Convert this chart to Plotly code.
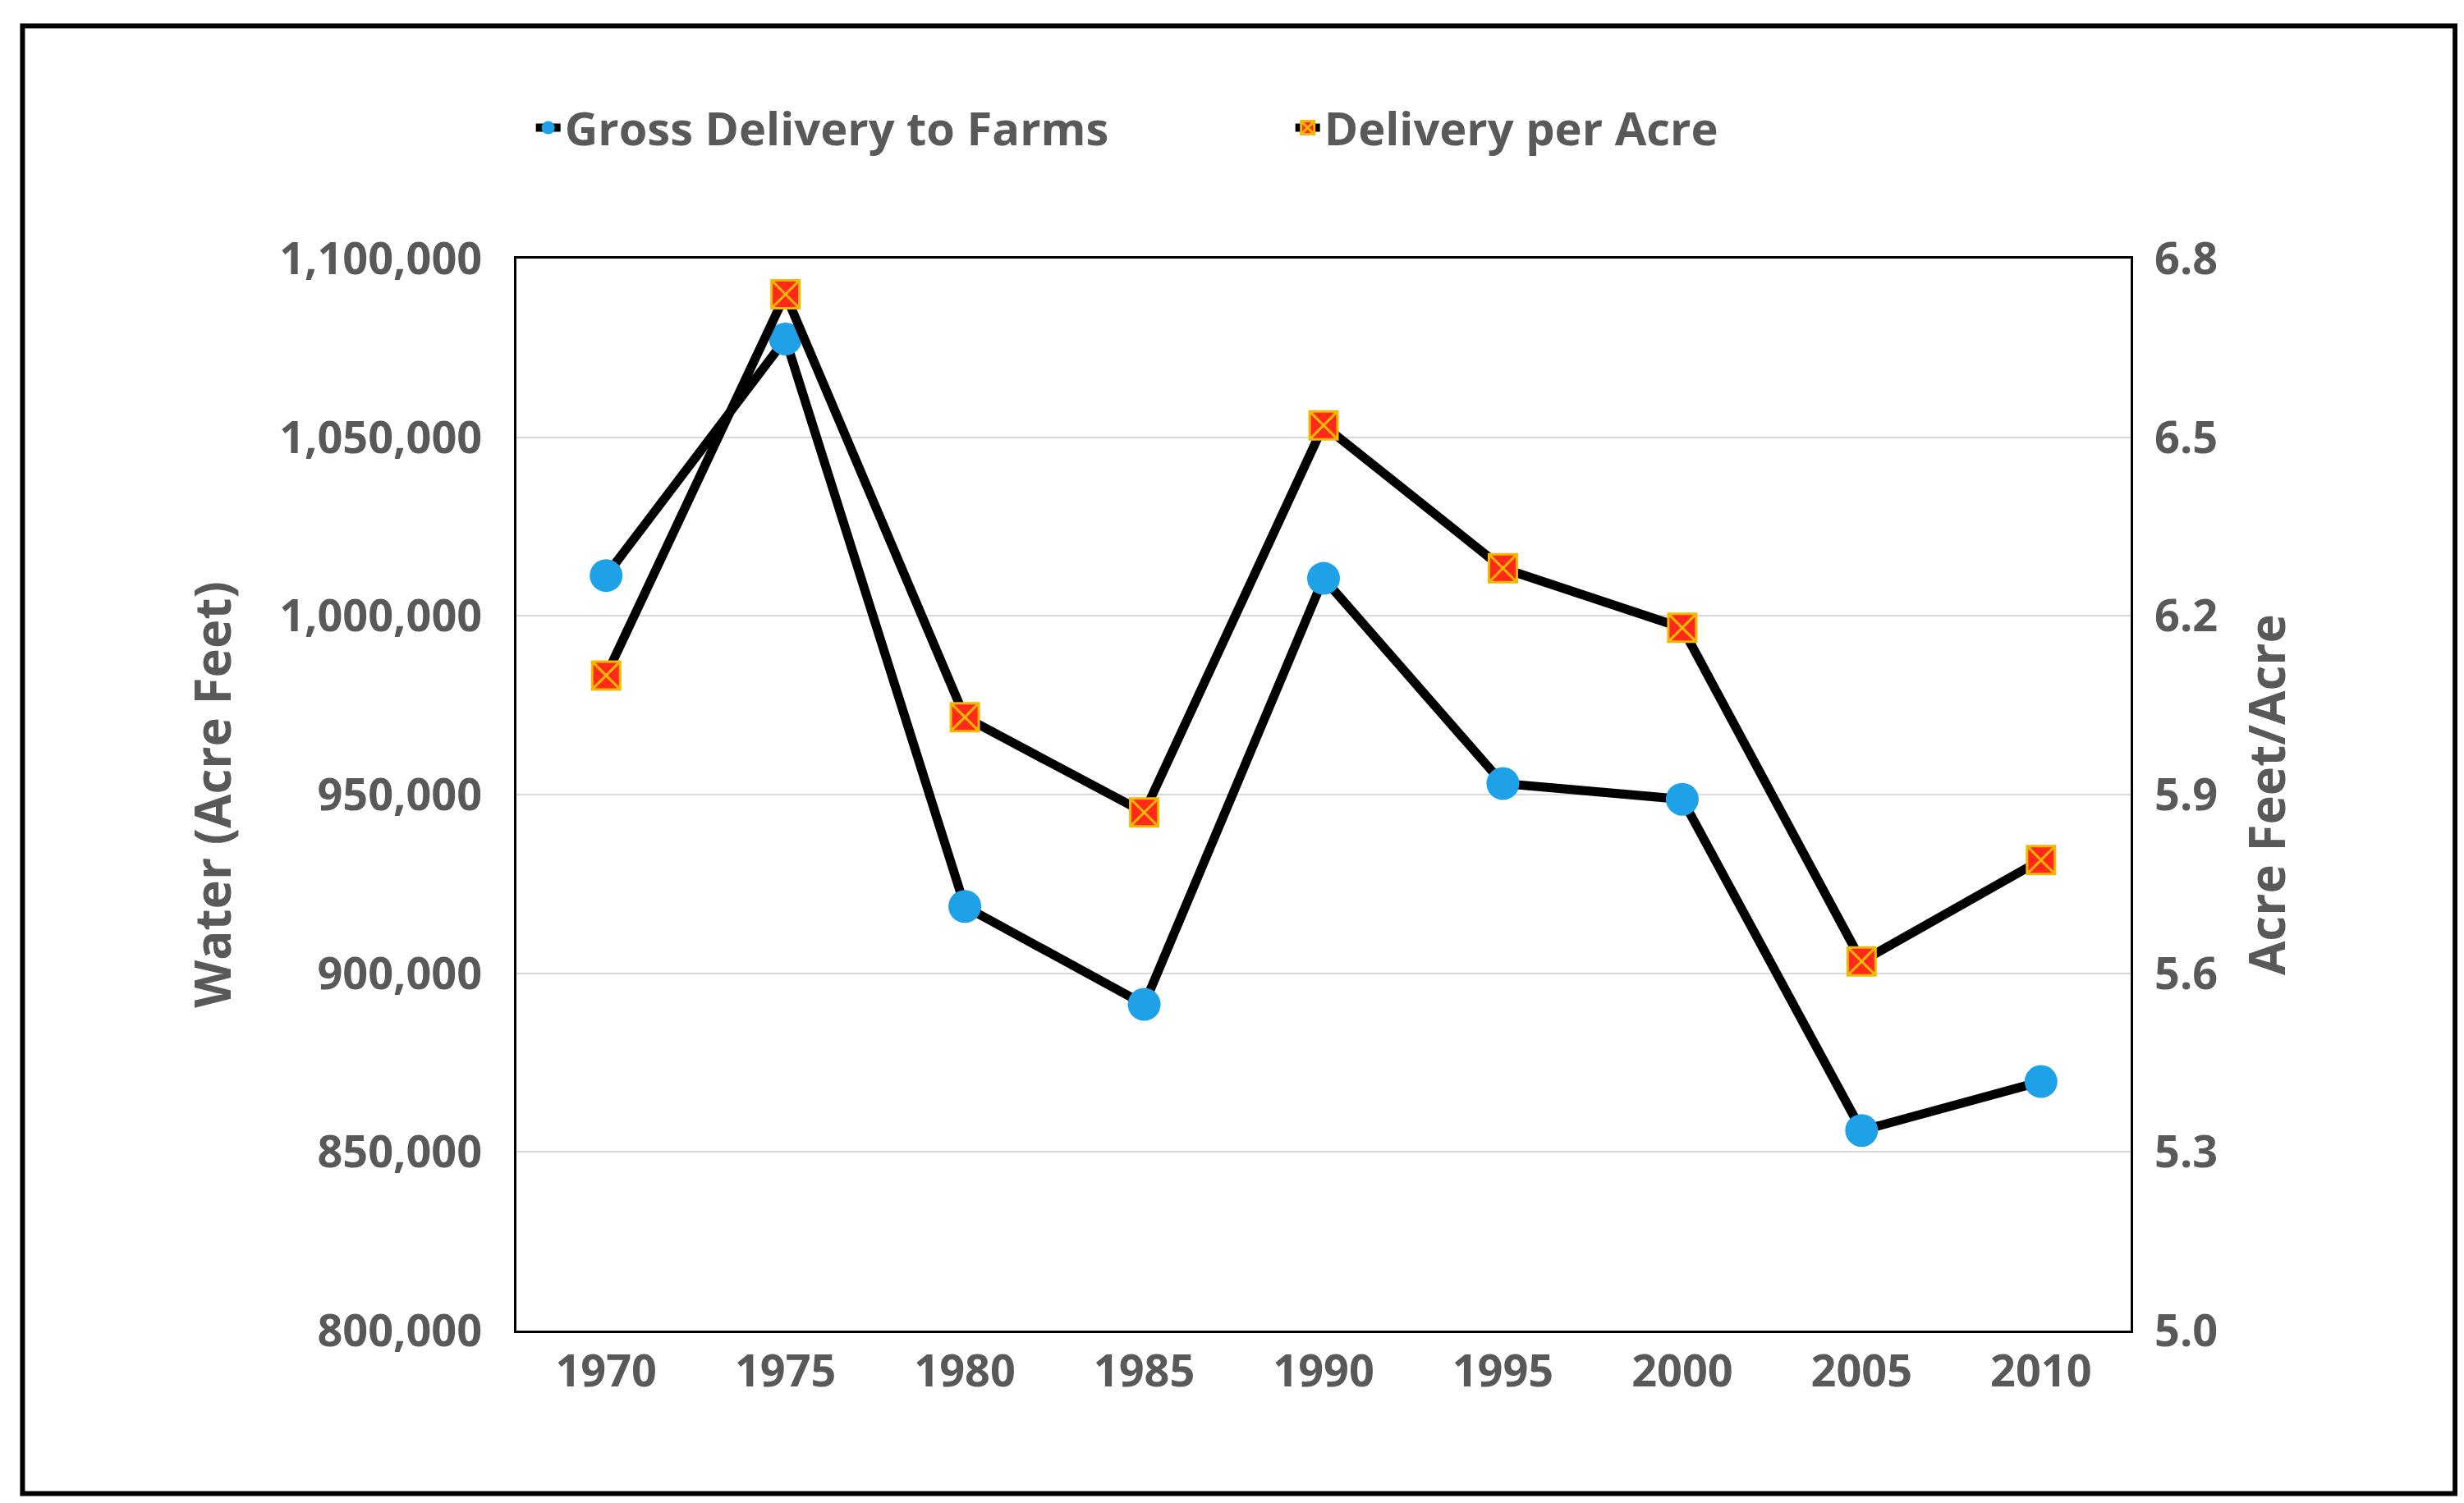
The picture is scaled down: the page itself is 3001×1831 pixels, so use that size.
import plotly.graph_objects as go

years = [1970, 1975, 1980, 1985, 1990, 1995, 2000, 2005, 2010]
gross_delivery = [1011300, 1077500, 918700, 891300, 1010500, 953100, 948700, 856000, 869700]
per_acre = [6.10, 6.74, 6.03, 5.87, 6.52, 6.28, 6.18, 5.62, 5.79]

grey = "#595959"
font = "Open Sans"
tick_font = dict(size=54, color=grey, family=font, weight="bold")

fig = go.Figure()
fig.add_trace(go.Scatter(
    x=years, y=gross_delivery, name="Gross Delivery to Farms", mode="lines+markers",
    line=dict(color="black", width=11),
    marker=dict(symbol="circle", size=40, color="#1ea1e6"),
))
fig.add_trace(go.Scatter(
    x=years, y=per_acre, name="Delivery per Acre", mode="lines+markers", yaxis="y2",
    line=dict(color="black", width=11),
    marker=dict(symbol="square-x", size=34, color="#ff2a1a", line=dict(color="#f5b800", width=3)),
))

fig.update_layout(
    width=3001, height=1831,
    paper_bgcolor="white", plot_bgcolor="white",
    margin=dict(l=621, r=414, t=307, b=218, autoexpand=False),
    font=dict(family=font, color=grey, size=54),
    showlegend=True,
    legend=dict(orientation="h", x=0.48, xanchor="center", y=1.122, yanchor="middle",
                font=dict(size=56, color=grey, family=font, weight="bold"),
                entrywidth=880, entrywidthmode="pixels"),
    xaxis=dict(tickvals=years, range=[1967.5, 2012.5], showgrid=False, zeroline=False,
               showline=True, linecolor="black", linewidth=3, mirror=True,
               tickfont=tick_font, ticks=""),
    yaxis=dict(range=[800000, 1100000], dtick=50000, tickformat=",",
               showgrid=True, gridcolor="#d9d9d9", gridwidth=2, zeroline=False,
               showline=True, linecolor="black", linewidth=3, mirror=True,
               title=dict(text="<b>Water (Acre Feet)</b>", font=dict(size=60, color=grey), standoff=40),
               tickfont=tick_font, ticks="", ticksuffix="  "),
    yaxis2=dict(range=[5.0, 6.8], tick0=5.0, dtick=0.3, tickformat=".1f", overlaying="y", side="right",
                showgrid=False, zeroline=False,
                title=dict(text="<b>Acre Feet/Acre</b>", font=dict(size=60, color=grey), standoff=40),
                tickfont=tick_font, ticks="", tickprefix="  "),
)
fig.add_shape(type="rect", xref="paper", yref="paper", x0=-0.306, x1=1.201, y0=-0.152, y1=1.217,
              line=dict(color="black", width=6))

fig.write_html("out.html")
